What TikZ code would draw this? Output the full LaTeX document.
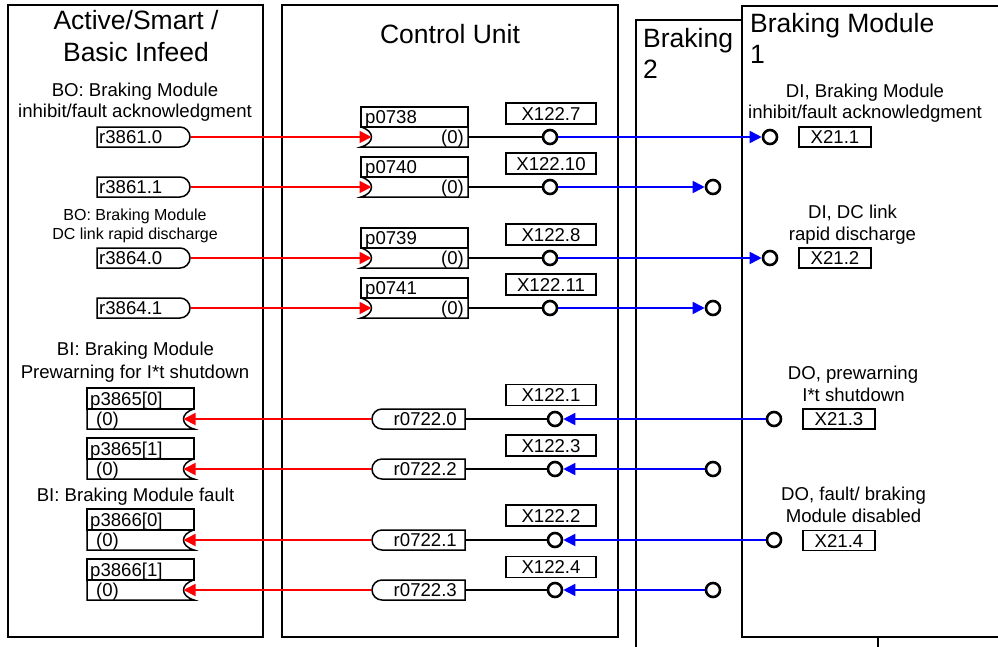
\documentclass[tikz,border=0pt]{standalone}
\usepackage{fontspec}
\setmainfont{Liberation Sans}
\usetikzlibrary{shapes.misc,arrows.meta}
\definecolor{cred}{RGB}{255,0,0}
\definecolor{cblue}{RGB}{0,0,255}
\newcommand\cusink[5]{%
 \draw[sig] (361,#2) rectangle (468,#3);
 \draw[sig] (361,#3) -- (468,#3) -- (468,#4) -- (361,#4) .. controls (375,{#4-4}) and (375,{#3+4}) .. (361,#3);
 \node[blbl, anchor=west] (#1) at (365,{(#2+#3)/2}) {#5};
 \node[blbl, anchor=east] (#1v) at (464,{(#3+#4)/2}) {(0)};
 \coordinate (#1in) at (371.5,{(#3+#4)/2});
 \coordinate (#1out) at (468,{(#3+#4)/2});
}
\newcommand\bisink[5]{%
 \draw[sig] (87,#2) rectangle (194,#3);
 \draw[sig] (194,#3) -- (87,#3) -- (87,#4) -- (194,#4) .. controls (180,{#4-4}) and (180,{#3+4}) .. (194,#3);
 \node[blbl, anchor=west] (#1) at (90,{(#2+#3)/2}) {#5};
 \node[blbl, anchor=west] (#1v) at (96,{(#3+#4)/2}) {(0)};
 \coordinate (#1in) at (183.5,{(#3+#4)/2});
}
\begin{document}
\begin{tikzpicture}[x=1pt,y=-1pt,
  frame/.style={line width=2.8pt},
  sig/.style={line width=1.5pt},
  big/.style={font=\fontsize{26.5}{30}\selectfont, inner sep=0},
  med/.style={font=\fontsize{18.6}{22}\selectfont, inner sep=0},
  sml/.style={font=\fontsize{16}{19}\selectfont, inner sep=0},
  blbl/.style={med, text height=13.3pt, text depth=0pt},
  src/.style={draw, sig, rounded rectangle, rounded rectangle left arc=none, minimum width=93pt, minimum height=20pt, inner sep=0},
  srcl/.style={draw, sig, rounded rectangle, rounded rectangle right arc=none, minimum width=93pt, minimum height=20pt, inner sep=0},
  xbox/.style={draw, sig, blbl, minimum width=90pt, minimum height=21pt},
  xsbox/.style={draw, sig, blbl, minimum width=72pt, minimum height=20pt},
  term/.style={draw, circle, line width=2.6pt, minimum size=14pt, inner sep=0},
  rline/.style={draw=cred, line width=1.8pt, -{Triangle[length=12pt,width=12pt]}},
  bline/.style={draw=cblue, line width=1.8pt, -{Triangle[length=12pt,width=12pt]}},
  kline/.style={line width=1.5pt},
]
\useasboundingbox[fill=white] (0,0) rectangle (998,646);
\clip (0,0) rectangle (998,646);

% frames
\draw[frame] (8,5) rectangle (263,637);
\draw[frame] (282,5) rectangle (618,637);
\draw[frame] (636,660) -- (636,20) -- (742,20);
\draw[frame] (1010,6) -- (742,6) -- (742,637) -- (1010,637);
\draw[frame] (878,637) -- (878,660);

% titles
\node[big, anchor=base] (t1a) at (136,29) {Active/Smart /};
\node[big, anchor=base] (t1b) at (136,61) {Basic Infeed};
\node[big, anchor=base] (t2) at (450,43) {Control Unit};
\node[big, anchor=base west] (t3a) at (643,47) {Braking};
\node[big, anchor=base west] (t3b) at (643,78) {2};
\node[big, anchor=base west] (t4a) at (750,32) {Braking Module};
\node[big, anchor=base west] (t4b) at (750,63) {1};

% left labels
\node[med, anchor=base] (l1a) at (135,96) {BO: Braking Module};
\node[med, anchor=base] (l1b) at (135,117) {inhibit/fault acknowledgment};
\node[sml, anchor=base] (l2a) at (135,220) {BO: Braking Module};
\node[sml, anchor=base] (l2b) at (135,239) {DC link rapid discharge};
\node[med, anchor=base] (l3a) at (135.5,355) {BI: Braking Module};
\node[med, anchor=base] (l3b) at (135,378) {Prewarning for I*t shutdown};
\node[med, anchor=base] (l4) at (135.5,501) {BI: Braking Module fault};

% right labels
\node[med, anchor=base] (m1a) at (865,97) {DI, Braking Module};
\node[med, anchor=base] (m1b) at (865,118) {inhibit/fault acknowledgment};
\node[med, anchor=base] (m2a) at (852.5,218) {DI, DC link};
\node[med, anchor=base] (m2b) at (852.5,240) {rapid discharge};
\node[med, anchor=base] (m3a) at (853,379) {DO, prewarning};
\node[med, anchor=base] (m3b) at (853.5,401) {I*t shutdown};
\node[med, anchor=base] (m4a) at (853.5,500) {DO, fault/ braking};
\node[med, anchor=base] (m4b) at (853.5,522) {Module disabled};

% source boxes (infeed)
\node[src] (r38610) at (143.5,137) {};
\node[src] (r38611) at (143.5,187) {};
\node[src] (r38640) at (143.5,258) {};
\node[src] (r38641) at (143.5,308) {};
\node[blbl, anchor=west] (r38610t) at (99,137) {r3861.0};
\node[blbl, anchor=west] (r38611t) at (99,187) {r3861.1};
\node[blbl, anchor=west] (r38640t) at (99,258) {r3864.0};
\node[blbl, anchor=west] (r38641t) at (99,308) {r3864.1};

% CU sinks
\cusink{p0738}{107}{127}{147}{p0738}
\cusink{p0740}{157}{177}{197}{p0740}
\cusink{p0739}{228}{248}{268}{p0739}
\cusink{p0741}{278}{298}{318}{p0741}

% BI sinks
\bisink{p38650}{388}{409}{429}{p3865[0]}
\bisink{p38651}{438}{459}{479}{p3865[1]}
\bisink{p38660}{509}{530}{550}{p3866[0]}
\bisink{p38661}{559}{580}{600}{p3866[1]}

% CU sources
\node[srcl] (r07220) at (418.5,419) {};
\node[srcl] (r07222) at (418.5,469) {};
\node[srcl] (r07221) at (418.5,540) {};
\node[srcl] (r07223) at (418.5,590) {};
\node[blbl, anchor=east] (r07220t) at (457,419) {r0722.0};
\node[blbl, anchor=east] (r07222t) at (457,469) {r0722.2};
\node[blbl, anchor=east] (r07221t) at (457,540) {r0722.1};
\node[blbl, anchor=east] (r07223t) at (457,590) {r0722.3};

% X122 labels
\node[xbox] (X1227) at (551,113.5) {X122.7};
\node[xbox] (X12210) at (551,163.5) {X122.10};
\node[xbox] (X1228) at (551,234.5) {X122.8};
\node[xbox] (X12211) at (551,284.5) {X122.11};
\node[xbox] (X1221) at (551,395) {X122.1};
\node[xbox] (X1223) at (551,445.5) {X122.3};
\node[xbox] (X1222) at (551,515.5) {X122.2};
\node[xbox] (X1224) at (551,567) {X122.4};

% X21 labels
\node[xsbox] (X211) at (835,137) {X21.1};
\node[xsbox] (X212) at (835,258) {X21.2};
\node[xsbox] (X213) at (839,419) {X21.3};
\node[xsbox] (X214) at (839,540.5) {X21.4};

% terminals
\node[term] (c7) at (550,137) {};
\node[term] (c10) at (550,187) {};
\node[term] (c8) at (550,258) {};
\node[term] (c11) at (550,308) {};
\node[term] (c1) at (555,419) {};
\node[term] (c3) at (555,469) {};
\node[term] (c2) at (555,540) {};
\node[term] (c4) at (555,590) {};
\node[term] (b11) at (770,137) {};
\node[term] (b12) at (770,258) {};
\node[term] (b13) at (774,419) {};
\node[term] (b14) at (774,540) {};
\node[term] (b21) at (713,187) {};
\node[term] (b22) at (713,308) {};
\node[term] (b23) at (713,469) {};
\node[term] (b24) at (713,590) {};

% red connectors
\draw[rline] (r38610.east) -- (p0738in);
\draw[rline] (r38611.east) -- (p0740in);
\draw[rline] (r38640.east) -- (p0739in);
\draw[rline] (r38641.east) -- (p0741in);
\draw[rline] (r07220.west) -- (p38650in);
\draw[rline] (r07222.west) -- (p38651in);
\draw[rline] (r07221.west) -- (p38660in);
\draw[rline] (r07223.west) -- (p38661in);

% black connectors
\draw[kline] (p0738out) -- (c7);
\draw[kline] (p0740out) -- (c10);
\draw[kline] (p0739out) -- (c8);
\draw[kline] (p0741out) -- (c11);
\draw[kline] (r07220.east) -- (c1);
\draw[kline] (r07222.east) -- (c3);
\draw[kline] (r07221.east) -- (c2);
\draw[kline] (r07223.east) -- (c4);

% blue connectors
\draw[bline] (c7) -- (b11);
\draw[bline] (c10) -- (b21);
\draw[bline] (c8) -- (b12);
\draw[bline] (c11) -- (b22);
\draw[bline] (b13) -- (c1);
\draw[bline] (b23) -- (c3);
\draw[bline] (b14) -- (c2);
\draw[bline] (b24) -- (c4);
\end{tikzpicture}
\end{document}
